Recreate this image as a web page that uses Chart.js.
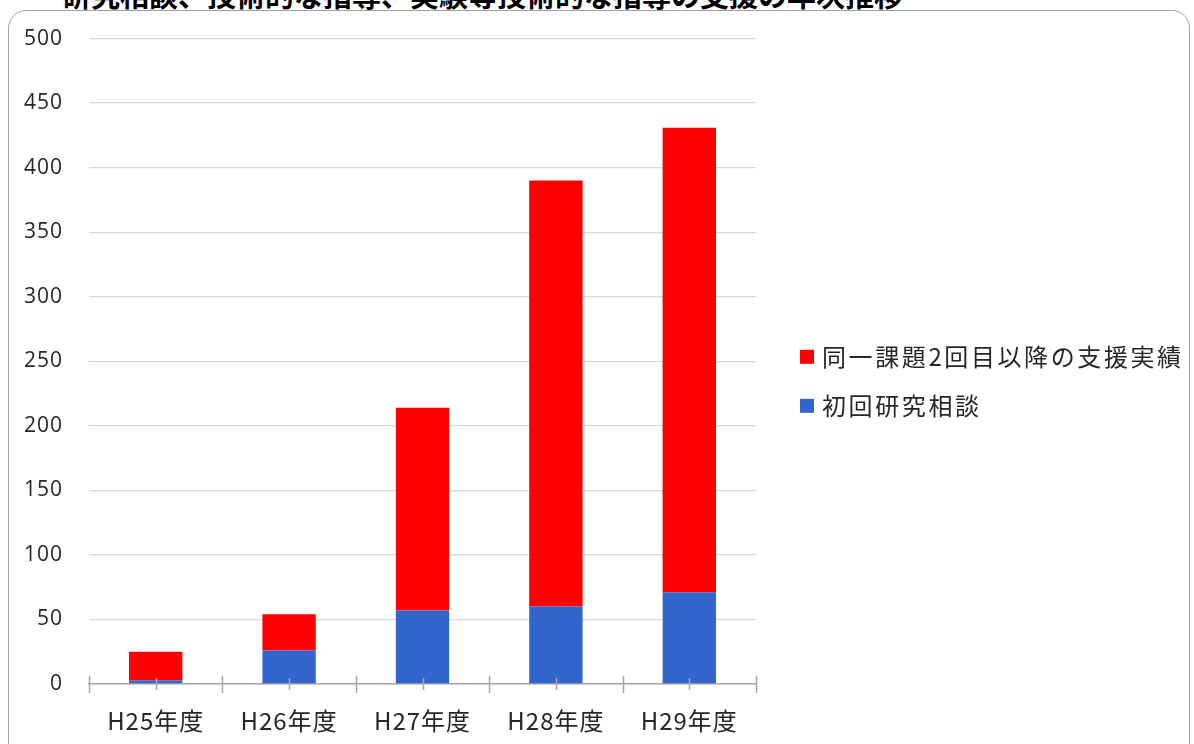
<!DOCTYPE html>
<html>
<head>
<meta charset="utf-8">
<script src="https://cdn.jsdelivr.net/npm/chart.js@4.4.1/dist/chart.umd.min.js"></script>
<style>
  html, body { margin: 0; padding: 0; background: #fff; overflow: hidden; }
  #wrap { position: relative; width: 1194px; height: 744px; overflow: hidden; }
  #title { position: absolute; left: 62px; top: -27px; font: bold 29px 'Noto Sans CJK JP', sans-serif; color: #000; white-space: nowrap; }
  #frame { position: absolute; left: 8px; top: 10px; width: 1182px; height: 760px; border: 1.5px solid #a0a0a0; border-radius: 18px; box-sizing: border-box; }
  #cv { position: absolute; left: 0; top: 0; }
</style>
</head>
<body>
<div id="wrap">
  <div id="title">研究相談、技術的な指導、実験等技術的な指導の支援の年次推移</div>
  <div id="frame"></div>
  <canvas id="cv" width="1194" height="744"></canvas>
</div>
<script>
const categories = ['H25年度', 'H26年度', 'H27年度', 'H28年度', 'H29年度'];
const firstConsult = [3, 26, 57, 60, 71];
const repeatSupport = [22, 28, 157, 330, 360];
const seriesNames = ['初回研究相談', '同一課題2回目以降の支援実績'];
const yTicks = [0, 50, 100, 150, 200, 250, 300, 350, 400, 450, 500];

const spacing = {
  id: 'spacing',
  beforeDraw(chart) { chart.ctx.letterSpacing = '1px'; }
};

const axisTicks = {
  id: 'axisTicks',
  afterDraw(chart) {
    const xs = chart.scales.x;
    const ctx = chart.ctx;
    const y = xs.top;
    ctx.save();
    ctx.strokeStyle = '#a6a6a6';
    ctx.lineWidth = 1.5;
    const n = chart.data.labels.length;
    ctx.beginPath();
    for (let i = 0; i <= n; i++) {
      let x;
      if (i === 0) x = xs.left;
      else if (i === n) x = xs.right;
      else x = (xs.getPixelForValue(i - 1) + xs.getPixelForValue(i)) / 2;
      x = Math.round(x) + 0.5;
      ctx.moveTo(x, y - 8);
      ctx.lineTo(x, y + 9);
    }
    for (let i = 0; i < n; i++) {
      const x = Math.round(xs.getPixelForValue(i)) + 0.5;
      ctx.moveTo(x, y - 6);
      ctx.lineTo(x, y + 6);
    }
    ctx.stroke();
    ctx.restore();
  }
};

const sideLegend = {
  id: 'sideLegend',
  afterDraw(chart) {
    const ctx = chart.ctx;
    const area = chart.chartArea;
    const items = chart.data.datasets.slice().reverse();
    const x0 = area.right + 44;
    const gap = 49;
    const cy = (area.top + area.bottom) / 2 + 20 - gap * (items.length - 1) / 2;
    ctx.save();
    ctx.font = "24px 'Noto Sans CJK JP', sans-serif";
    ctx.letterSpacing = '2.6px';
    ctx.textBaseline = 'middle';
    ctx.textAlign = 'left';
    items.forEach((ds, i) => {
      const y = cy + i * gap;
      ctx.fillStyle = ds.backgroundColor;
      ctx.fillRect(x0, y - 7, 14, 14);
      ctx.fillStyle = '#262626';
      ctx.fillText(ds.label, x0 + 22, y);
    });
    ctx.restore();
  }
};

new Chart(document.getElementById('cv'), {
  type: 'bar',
  data: {
    labels: categories,
    datasets: [
      { label: seriesNames[0], data: firstConsult, backgroundColor: '#3366cc', borderWidth: 0 },
      { label: seriesNames[1], data: repeatSupport, backgroundColor: '#ff0000', borderWidth: 0 }
    ]
  },
  options: {
    responsive: false,
    animation: false,
    devicePixelRatio: 1,
    layout: { padding: { left: 0, top: 30, right: 438, bottom: 0 } },
    datasets: { bar: { barPercentage: 0.4, categoryPercentage: 1.0 } },
    plugins: {
      legend: { display: false },
      tooltip: { enabled: false }
    },
    scales: {
      x: {
        stacked: true,
        afterFit(scale) { scale.height = 60; },
        grid: { display: false, drawOnChartArea: false },
        border: { display: true, color: '#a6a6a6', width: 1.5 },
        ticks: { padding: 14, color: '#262626', font: { family: "'Noto Sans CJK JP', sans-serif", size: 24 } }
      },
      y: {
        stacked: true,
        min: 0, max: 500,
        afterBuildTicks(scale) { scale.ticks = yTicks.map(v => ({ value: v })); },
        afterFit(scale) { scale.width = 89; },
        grid: { color: '#d9d9d9', lineWidth: 1.3, drawTicks: false },
        border: { display: false },
        ticks: { padding: 26, color: '#262626', font: { family: "'Open Sans', sans-serif", size: 21 } }
      }
    }
  },
  plugins: [spacing, axisTicks, sideLegend]
});
</script>
</body>
</html>
